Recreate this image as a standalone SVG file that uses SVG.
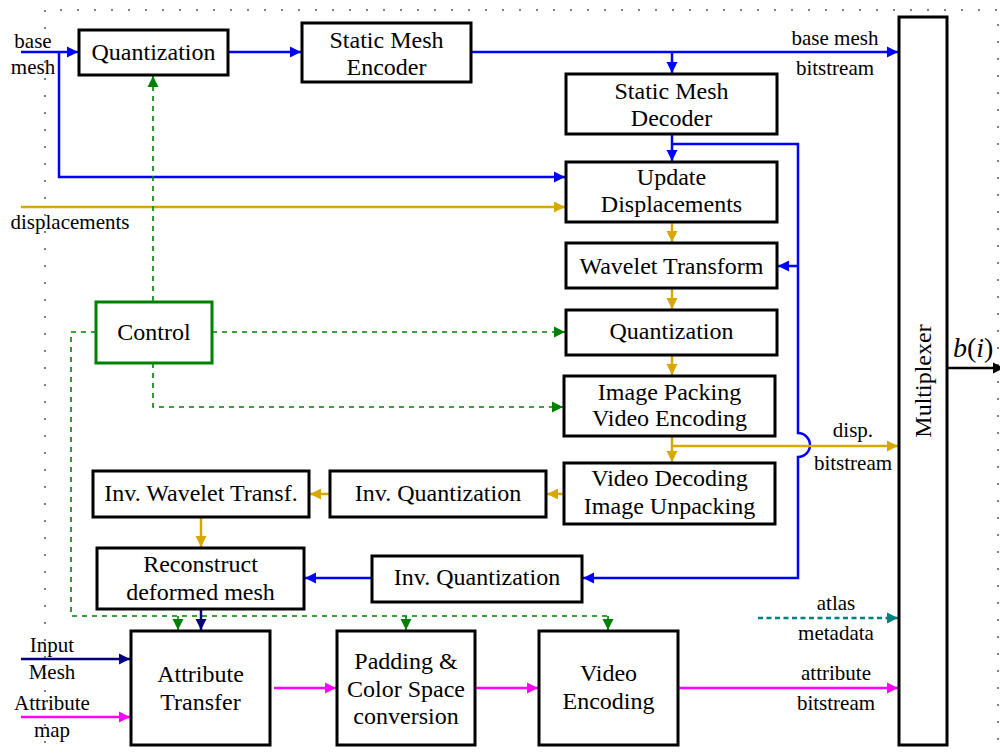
<svg xmlns="http://www.w3.org/2000/svg" width="1000" height="753" viewBox="0 0 1000 753" font-family="Liberation Serif, DejaVu Serif, serif">
  <defs>
    <style>
      .box { fill: #ffffff; stroke: #000000; stroke-width: 3; }
      .ctl { fill: #ffffff; stroke: #008000; stroke-width: 3; }
      .t { font-size: 24px; fill: #000000; text-anchor: middle; }
      .lbl { font-size: 21px; fill: #000000; text-anchor: middle; }
      .frame { fill: none; stroke: #808080; stroke-width: 2; stroke-dasharray: 2 15; }
      .c { fill: none; stroke-width: 2.5; }
      .blue { stroke: #0000ff; }
      .gold { stroke: #d9a800; }
      .green { stroke: #008000; stroke-width: 1.6; stroke-dasharray: 5 5; }
      .navy { stroke: #000080; }
      .mag { stroke: #ff00ff; }
      .teal { stroke: #008080; stroke-width: 2.5; stroke-dasharray: 5 3.5; }
      .blk { stroke: #000000; }
    </style>
    <marker id="a-blue" markerUnits="userSpaceOnUse" markerWidth="12" markerHeight="12" refX="11" refY="6" orient="auto"><path d="M0,0.5 L11,6 L0,11.5 z" fill="#0000ff"/></marker>
    <marker id="a-gold" markerUnits="userSpaceOnUse" markerWidth="12" markerHeight="12" refX="11" refY="6" orient="auto"><path d="M0,0.5 L11,6 L0,11.5 z" fill="#d9a800"/></marker>
    <marker id="a-green" markerUnits="userSpaceOnUse" markerWidth="12" markerHeight="12" refX="11" refY="6" orient="auto"><path d="M0,0.5 L11,6 L0,11.5 z" fill="#008000"/></marker>
    <marker id="a-navy" markerUnits="userSpaceOnUse" markerWidth="12" markerHeight="12" refX="11" refY="6" orient="auto"><path d="M0,0.5 L11,6 L0,11.5 z" fill="#000080"/></marker>
    <marker id="a-mag" markerUnits="userSpaceOnUse" markerWidth="12" markerHeight="12" refX="11" refY="6" orient="auto"><path d="M0,0.5 L11,6 L0,11.5 z" fill="#ff00ff"/></marker>
    <marker id="a-teal" markerUnits="userSpaceOnUse" markerWidth="12" markerHeight="12" refX="11" refY="6" orient="auto"><path d="M0,0.5 L11,6 L0,11.5 z" fill="#008080"/></marker>
    <marker id="a-blk" markerUnits="userSpaceOnUse" markerWidth="12" markerHeight="12" refX="11" refY="6" orient="auto"><path d="M0,0.5 L11,6 L0,11.5 z" fill="#000000"/></marker>
  </defs>

  <rect width="1000" height="753" fill="#ffffff"/>

  <!-- dotted encoder boundary -->
  <path class="frame" d="M45,760 V10 H998 V760"/>

  <!-- connectors -->
  <g id="connectors">
    <!-- base mesh path (blue) -->
    <path class="c blue" d="M21,52 H78" marker-end="url(#a-blue)"/>
    <path class="c blue" d="M228,52 H301" marker-end="url(#a-blue)"/>
    <path class="c blue" d="M471,52 H898" marker-end="url(#a-blue)"/>
    <path class="c blue" d="M672,52 V73" marker-end="url(#a-blue)"/>
    <path class="c blue" d="M672,134 V161" marker-end="url(#a-blue)"/>
    <path class="c blue" d="M59,52 V177 H565" marker-end="url(#a-blue)"/>
    <path class="c blue" d="M672,144 H798 V433 A12,12 0 0 1 798,457 V578 H583" marker-end="url(#a-blue)"/>
    <path class="c blue" d="M798,266 H778" marker-end="url(#a-blue)"/>
    <path class="c blue" d="M371,578 H305" marker-end="url(#a-blue)"/>

    <!-- displacement path (gold) -->
    <path class="c gold" d="M21,207 H565" marker-end="url(#a-gold)"/>
    <path class="c gold" d="M672,222 V242" marker-end="url(#a-gold)"/>
    <path class="c gold" d="M672,288 V309" marker-end="url(#a-gold)"/>
    <path class="c gold" d="M672,355 V375" marker-end="url(#a-gold)"/>
    <path class="c gold" d="M672,436 V462" marker-end="url(#a-gold)"/>
    <path class="c gold" d="M672,446 H898" marker-end="url(#a-gold)"/>
    <path class="c gold" d="M564,494 H547" marker-end="url(#a-gold)"/>
    <path class="c gold" d="M329,494 H310" marker-end="url(#a-gold)"/>
    <path class="c gold" d="M201,517 V547" marker-end="url(#a-gold)"/>

    <!-- control signals (green, dashed) -->
    <path class="c green" d="M153,301 V76" marker-end="url(#a-green)"/>
    <path class="c green" d="M212,332 H565" marker-end="url(#a-green)"/>
    <path class="c green" d="M153,363 V407 H563" marker-end="url(#a-green)"/>
    <path class="c green" d="M96,332 H71 V616 H610"/>
    <path class="c green" d="M178,616 V630" marker-end="url(#a-green)"/>
    <path class="c green" d="M406,616 V630" marker-end="url(#a-green)"/>
    <path class="c green" d="M608,616 V630" marker-end="url(#a-green)"/>

    <!-- input mesh (navy) -->
    <path class="c navy" d="M201,609 V630" marker-end="url(#a-navy)"/>
    <path class="c navy" d="M21,659 H130" marker-end="url(#a-navy)"/>

    <!-- attribute path (magenta) -->
    <path class="c mag" d="M21,717 H130" marker-end="url(#a-mag)"/>
    <path class="c mag" d="M274,688 H336" marker-end="url(#a-mag)"/>
    <path class="c mag" d="M475,688 H538" marker-end="url(#a-mag)"/>
    <path class="c mag" d="M678,688 H898" marker-end="url(#a-mag)"/>

    <!-- atlas metadata (teal, dashed) -->
    <path class="c teal" d="M758,618 H898" marker-end="url(#a-teal)"/>

    <!-- output bitstream -->
    <path class="c blk" d="M947,368 H1004" marker-end="url(#a-blk)"/>
  </g>

  <!-- edge labels (baselines sit about 7px below the visual centre) -->
  <g id="labels">
    <text class="lbl" x="33" y="48">base</text>
    <text class="lbl" x="33" y="74">mesh</text>
    <text class="lbl" x="70" y="229">displacements</text>
    <text class="lbl" x="835" y="45">base mesh</text>
    <text class="lbl" x="835" y="75">bitstream</text>
    <text class="lbl" x="853" y="437">disp.</text>
    <text class="lbl" x="853" y="470">bitstream</text>
    <text class="lbl" x="836" y="610">atlas</text>
    <text class="lbl" x="836" y="640">metadata</text>
    <text class="lbl" x="836" y="680">attribute</text>
    <text class="lbl" x="836" y="710">bitstream</text>
    <text class="lbl" x="52" y="652">Input</text>
    <text class="lbl" x="52" y="679">Mesh</text>
    <text class="lbl" x="52" y="710">Attribute</text>
    <text class="lbl" x="52" y="737">map</text>
    <text x="953" y="357" font-size="28" fill="#000000"><tspan font-style="italic">b</tspan>(<tspan font-style="italic">i</tspan>)</text>
  </g>

  <!-- nodes (box text baselines sit about 8px below the visual centre) -->
  <g id="quantization-base">
    <rect class="box" x="79" y="30" width="149" height="45"/>
    <text class="t" x="153.5" y="60">Quantization</text>
  </g>
  <g id="static-mesh-encoder">
    <rect class="box" x="302" y="23" width="169" height="59"/>
    <text class="t" x="386.5" y="48">Static Mesh</text>
    <text class="t" x="386.5" y="75">Encoder</text>
  </g>
  <g id="static-mesh-decoder">
    <rect class="box" x="566" y="74" width="211" height="60"/>
    <text class="t" x="671.5" y="99">Static Mesh</text>
    <text class="t" x="671.5" y="126">Decoder</text>
  </g>
  <g id="update-displacements">
    <rect class="box" x="566" y="162" width="211" height="60"/>
    <text class="t" x="671.5" y="185">Update</text>
    <text class="t" x="671.5" y="212">Displacements</text>
  </g>
  <g id="wavelet-transform">
    <rect class="box" x="566" y="243" width="211" height="45"/>
    <text class="t" x="671.5" y="274">Wavelet Transform</text>
  </g>
  <g id="quantization-disp">
    <rect class="box" x="566" y="310" width="211" height="45"/>
    <text class="t" x="671.5" y="339">Quantization</text>
  </g>
  <g id="image-packing">
    <rect class="box" x="564" y="376" width="211" height="60"/>
    <text class="t" x="669.5" y="400">Image Packing</text>
    <text class="t" x="669.5" y="426">Video Encoding</text>
  </g>
  <g id="video-decoding">
    <rect class="box" x="564" y="463" width="211" height="61"/>
    <text class="t" x="669.5" y="486">Video Decoding</text>
    <text class="t" x="669.5" y="514">Image Unpacking</text>
  </g>
  <g id="inv-quantization-disp">
    <rect class="box" x="330" y="471" width="216" height="46"/>
    <text class="t" x="438" y="501">Inv. Quantization</text>
  </g>
  <g id="inv-wavelet">
    <rect class="box" x="93" y="471" width="216" height="46"/>
    <text class="t" x="201" y="501">Inv. Wavelet Transf.</text>
  </g>
  <g id="reconstruct">
    <rect class="box" x="97" y="548" width="207" height="61"/>
    <text class="t" x="200.5" y="572">Reconstruct</text>
    <text class="t" x="200.5" y="600">deformed mesh</text>
  </g>
  <g id="inv-quantization-base">
    <rect class="box" x="372" y="556" width="210" height="46"/>
    <text class="t" x="477" y="585">Inv. Quantization</text>
  </g>
  <g id="control">
    <rect class="ctl" x="96" y="302" width="116" height="61"/>
    <text class="t" x="154" y="340">Control</text>
  </g>
  <g id="attribute-transfer">
    <rect class="box" x="131" y="631" width="139" height="114"/>
    <text class="t" x="200.5" y="682">Attribute</text>
    <text class="t" x="200.5" y="710">Transfer</text>
  </g>
  <g id="padding">
    <rect class="box" x="337" y="631" width="138" height="114"/>
    <text class="t" x="406" y="669">Padding &amp;</text>
    <text class="t" x="406" y="697">Color Space</text>
    <text class="t" x="406" y="724">conversion</text>
  </g>
  <g id="video-encoding">
    <rect class="box" x="539" y="631" width="139" height="114"/>
    <text class="t" x="608.5" y="681">Video</text>
    <text class="t" x="608.5" y="709">Encoding</text>
  </g>
  <g id="multiplexer">
    <rect class="box" x="899" y="17" width="48" height="728"/>
    <text class="t" transform="translate(923,381) rotate(-90)" x="0" y="8">Multiplexer</text>
  </g>
</svg>
